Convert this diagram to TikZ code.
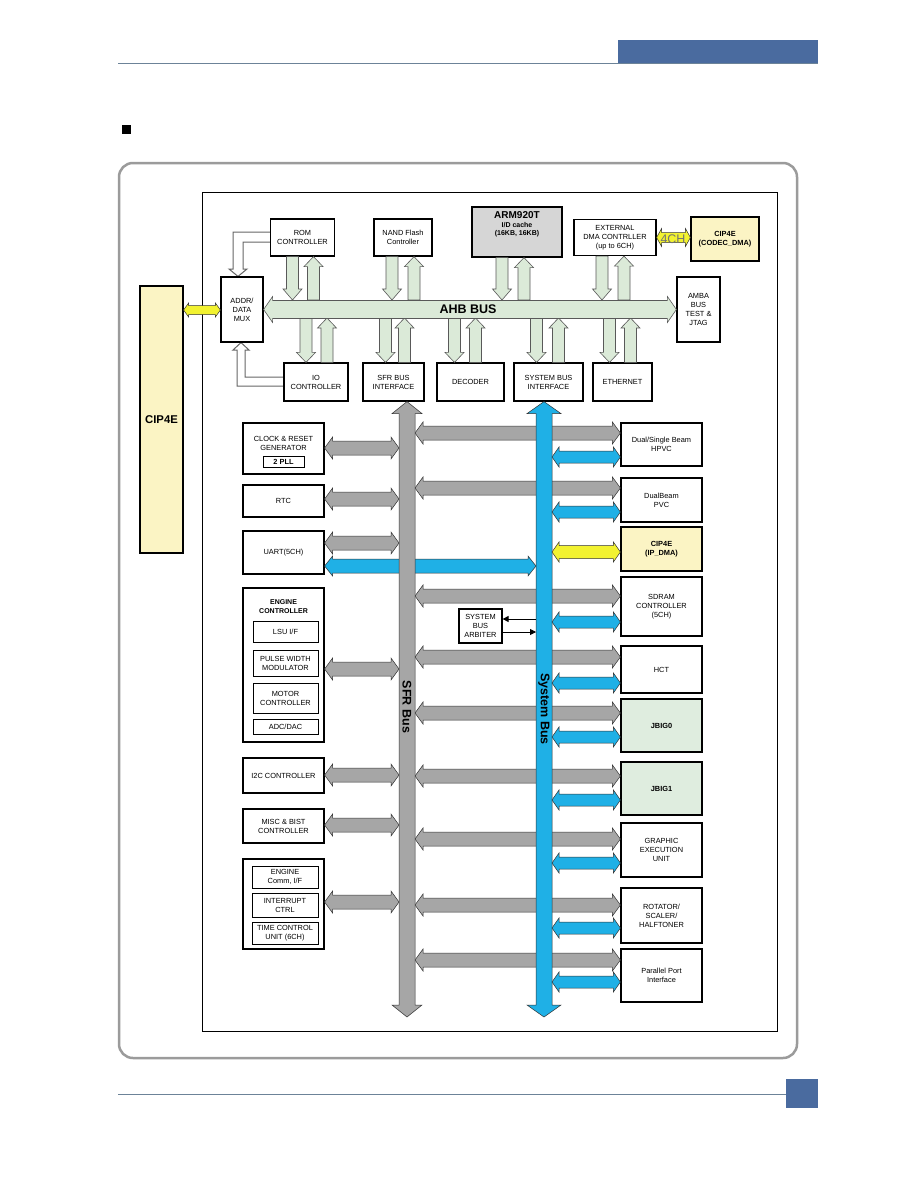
\documentclass[tikz,border=0pt]{standalone}
\usepackage{fontspec}
\setmainfont{Liberation Sans}
\usepackage{tikz}
\usetikzlibrary{arrows.meta,calc,backgrounds}
\definecolor{busgray}{HTML}{A6A6A6}
\definecolor{busblue}{HTML}{1FB0E6}
\definecolor{ahbgreen}{HTML}{DBEAD8}
\definecolor{jbiggreen}{HTML}{DFEDDF}
\definecolor{cipyellow}{HTML}{FBF4C4}
\definecolor{linkyellow}{HTML}{F2F230}
\definecolor{armgray}{HTML}{D6D6D6}
\definecolor{pageblue}{HTML}{4A6B9F}
\definecolor{rulegray}{HTML}{6C8398}
\definecolor{framegray}{HTML}{9B9B9B}

% block arrow with one head: style, shaft half, head half, head length, from, to
\newcommand\singlearrow[6]{%
  \coordinate (arA) at #5;
  \coordinate (arB) at #6;
  \coordinate (arH) at ($(arB)!#4!(arA)$);
  \path[#1] ($(arA)!#2!-90:(arB)$) -- ($(arH)!#2!90:(arA)$) -- ($(arH)!#3!90:(arA)$) -- (arB)
    -- ($(arH)!#3!-90:(arA)$) -- ($(arH)!#2!-90:(arA)$) -- ($(arA)!#2!90:(arB)$) -- cycle;}
% block arrow with two heads
\newcommand\doublearrow[6]{%
  \coordinate (arA) at #5;
  \coordinate (arB) at #6;
  \coordinate (arS) at ($(arA)!#4!(arB)$);
  \coordinate (arH) at ($(arB)!#4!(arA)$);
  \path[#1] (arA) -- ($(arS)!#3!-90:(arB)$) -- ($(arS)!#2!-90:(arB)$) -- ($(arH)!#2!90:(arA)$)
    -- ($(arH)!#3!90:(arA)$) -- (arB) -- ($(arH)!#3!-90:(arA)$) -- ($(arH)!#2!-90:(arA)$)
    -- ($(arS)!#2!90:(arB)$) -- ($(arS)!#3!90:(arB)$) -- cycle;}

\begin{document}
\begin{tikzpicture}[x=1pt,y=-1pt,
  blk/.style={draw,line width=1.2pt,fill=white,align=center,inner sep=1pt,font=\fontsize{7.4}{9}\selectfont},
  inblk/.style={blk,line width=1pt},
  sz/.style 2 args={minimum width=#1pt,minimum height=#2pt},
  grayarr/.style={fill=busgray,draw=black!80,line width=0.5pt},
  bluearr/.style={fill=busblue,draw=black!80,line width=0.5pt},
  yelarr/.style={fill=linkyellow,draw=black!80,line width=0.5pt},
  ahbarr/.style={fill=ahbgreen,draw=black!65,line width=0.6pt},
  hollow/.style={fill=white,draw=black!60,line width=1pt},
  buslbl/.style={font=\bfseries\fontsize{12.5}{14}\selectfont}]
  \useasboundingbox (0,0) rectangle (918,1188);

  % page header / footer
  \fill[pageblue] (618,40) rectangle (818,63);
  \draw[rulegray,line width=1pt] (118,64) -- (818,64);
  \fill (122,125) rectangle (131,134);
  \draw[rulegray,line width=1pt] (118,1094) -- (786,1094);
  \fill[pageblue] (786,1079) rectangle (818,1108);

  % frames
  \draw[framegray,line width=2.5pt,rounded corners=14pt] (119,163) rectangle (797,1058);
  \draw[line width=0.7pt] (202,192) rectangle (777,1031);

  % AHB side
  \node[blk,sz={64}{37}] (rom) at (302.5,237.5) {ROM\\CONTROLLER};
  \node[blk,sz={58}{37}] (nand) at (403,237.5) {NAND Flash\\Controller};
  \node[blk,sz={90}{50},fill=armgray] (arm) at (517,232) {};
  \node[anchor=north,align=center,font=\bfseries\fontsize{7}{8.6}\selectfont] (armtxt) at (517,208)
    {{\fontsize{10}{11.5}\selectfont ARM920T}\\I/D cache\\(16KB, 16KB)};
  \node[blk,sz={82}{36}] (dma) at (615,237.5) {EXTERNAL\\DMA CONTRLLER\\(up to 6CH)};
  \node[blk,sz={68}{44},fill=cipyellow,font=\bfseries\fontsize{7.4}{9}\selectfont] (cipc) at (725,239) {CIP4E\\(CODEC\_DMA)};
  \node[blk,sz={42}{65}] (mux) at (242,309.5) {ADDR/\\DATA\\MUX};
  \node[blk,sz={43}{65}] (amba) at (698.5,309.5) {AMBA\\BUS\\TEST \&\\JTAG};
  \node[blk,sz={64}{38}] (io) at (316,382) {IO\\CONTROLLER};
  \node[blk,sz={61}{38}] (sfrif) at (393.5,382) {SFR BUS\\INTERFACE};
  \node[blk,sz={67}{38}] (dec) at (470.5,382) {DECODER};
  \node[blk,sz={69}{38}] (sysif) at (548.5,382) {SYSTEM BUS\\INTERFACE};
  \node[blk,sz={59}{38}] (eth) at (622.5,382) {ETHERNET};
  \node[blk,sz={43}{267},fill=cipyellow,font=\bfseries\fontsize{11.3}{13}\selectfont] (cipl) at (161.5,419.5) {CIP4E};

  % left peripherals
  \node[blk,sz={81}{51}] (clk) at (283.5,448.5) {};
  \node[align=center,font=\fontsize{7.4}{9}\selectfont] (clktxt) at (283.5,443) {CLOCK \& RESET\\GENERATOR};
  \node[inblk,sz={41}{11},font=\bfseries\fontsize{7.4}{9}\selectfont] (pll) at (283.5,461.5) {2 PLL};
  \node[blk,sz={81}{32}] (rtc) at (283.5,501) {RTC};
  \node[blk,sz={81}{43}] (uart) at (283.5,552.5) {UART(5CH)};
  \node[blk,sz={81}{154}] (eng) at (283.5,665) {};
  \node[align=center,font=\bfseries\fontsize{7}{9}\selectfont] (engtxt) at (283.5,607) {ENGINE\\CONTROLLER};
  \node[inblk,sz={65}{21}] (lsu) at (285.5,631.5) {LSU I/F};
  \node[inblk,sz={65}{26}] (pwm) at (285.5,663) {PULSE WIDTH\\MODULATOR};
  \node[inblk,sz={65}{30}] (mot) at (285.5,698) {MOTOR\\CONTROLLER};
  \node[inblk,sz={65}{15}] (adc) at (285.5,726.5) {ADC/DAC};
  \node[blk,sz={81}{35}] (i2c) at (283.5,775.5) {I2C CONTROLLER};
  \node[blk,sz={81}{34}] (misc) at (283.5,826) {MISC \& BIST\\CONTROLLER};
  \node[blk,sz={81}{90}] (grp) at (283.5,904) {};
  \node[inblk,sz={66}{22}] (ecom) at (285,877) {ENGINE\\Comm, I/F};
  \node[inblk,sz={66}{24}] (intr) at (285,905) {INTERRUPT\\CTRL};
  \node[inblk,sz={66}{22}] (tcu) at (285,933) {TIME CONTROL\\UNIT (6CH)};

  % right peripherals
  \node[blk,sz={81}{43}] (hpvc) at (661.5,444.5) {Dual/Single Beam\\HPVC};
  \node[blk,sz={81}{44}] (pvc) at (661.5,500) {DualBeam\\PVC};
  \node[blk,sz={81}{44},fill=cipyellow,font=\bfseries\fontsize{7.4}{9}\selectfont] (cipi) at (661.5,549) {CIP4E\\(IP\_DMA)};
  \node[blk,sz={81}{59}] (sdram) at (661.5,606.5) {SDRAM\\CONTROLLER\\(5CH)};
  \node[blk,sz={81}{47}] (hct) at (661.5,669.5) {HCT};
  \node[blk,sz={81}{53},fill=jbiggreen,font=\bfseries\fontsize{7.4}{9}\selectfont] (jbig0) at (661.5,725.5) {JBIG0};
  \node[blk,sz={81}{53},fill=jbiggreen,font=\bfseries\fontsize{7.4}{9}\selectfont] (jbig1) at (661.5,788.5) {JBIG1};
  \node[blk,sz={81}{54}] (geu) at (661.5,850) {GRAPHIC\\EXECUTION\\UNIT};
  \node[blk,sz={81}{55}] (rot) at (661.5,915.5) {ROTATOR/\\SCALER/\\HALFTONER};
  \node[blk,sz={81}{53}] (pp) at (661.5,975.5) {Parallel Port\\Interface};
  \node[blk,sz={43}{34}] (arb) at (480.5,626) {SYSTEM\\BUS\\ARBITER};

  % bus edges
  \coordinate (ahbT) at (0,300);
  \coordinate (ahbB) at (0,318);
  \coordinate (sfrX) at (407,0);
  \coordinate (sfrL) at (399,0);
  \coordinate (sfrR) at (415,0);
  \coordinate (sysX) at (544,0);
  \coordinate (sysL) at (536,0);
  \coordinate (sysR) at (552,0);

  % ROM / IO to MUX
  \begin{scope}[on background layer]
    \fill[white] (0,0) rectangle (918,1188);
    \path[hollow] (rom.west |- 0,232) -- (233,232) -- (233,269) -- (229,269) -- (238,0 |- mux.north)
      -- (247,269) -- (243,269) -- (243,242) -- (rom.west |- 0,242);
    \path[hollow] (io.west |- 0,377) -- (245,377) -- (245,350) -- (249,350) -- (241,0 |- mux.south)
      -- (233,350) -- (237,350) -- (237,386) -- (io.west |- 0,386);
  \end{scope}

  % masters / slaves on AHB
  \foreach \b/\dd/\du in {rom/-10/11, nand/-11/11, arm/-15/7, dma/-13/9}{
    \coordinate (p) at ($(\b.south)+(\dd,0)$);
    \singlearrow{ahbarr}{6pt}{9.5pt}{11pt}{(p)}{(p |- ahbT)}
    \coordinate (q) at ($(\b.south)+(\du,0)$);
    \singlearrow{ahbarr}{6pt}{9.5pt}{10pt}{(q |- ahbT)}{(q)}
  }
  \foreach \b/\dd/\du in {io/-10/11, sfrif/-8/11, dec/-16/5, sysif/-12/10, eth/-13/8}{
    \coordinate (p) at ($(\b.north)+(\dd,0)$);
    \singlearrow{ahbarr}{6pt}{9.5pt}{10pt}{(p |- ahbB)}{(p)}
    \coordinate (q) at ($(\b.north)+(\du,0)$);
    \singlearrow{ahbarr}{6pt}{9.5pt}{10pt}{(q)}{(q |- ahbB)}
  }
  \doublearrow{ahbarr}{9pt}{13pt}{9pt}{(mux.east)}{(mux.east -| amba.west)}
  \node[buslbl] (ahblbl) at (468,309) {AHB BUS};

  \doublearrow{yelarr}{4.5pt}{7pt}{5pt}{(cipl.east |- 0,310)}{(mux.west |- 0,310)}
  \doublearrow{yelarr}{5pt}{9pt}{5pt}{(dma.east)}{(dma.east -| cipc.west)}
  \node[font=\fontsize{12.5}{14}\selectfont,text=black!55] (fourch) at (673,239.5) {4CH};

  % SFR bus side
  \foreach \b/\gy in {clk/448, rtc/499, uart/543, eng/669, i2c/775, misc/825, grp/902}
    \doublearrow{grayarr}{7pt}{11pt}{8pt}{(\b.east |- 0,\gy)}{(sfrL |- 0,\gy)};
  \foreach \b/\gy in {hpvc/433, pvc/488, sdram/596, hct/657, jbig0/713, jbig1/776, geu/839, rot/905, pp/960}
    \doublearrow{grayarr}{7pt}{11pt}{8pt}{(sfrR |- 0,\gy)}{(\b.west |- 0,\gy)};
  \doublearrow{bluearr}{7pt}{10pt}{8pt}{(uart.east |- 0,566)}{(sysL |- 0,566)}
  \doublearrow{grayarr}{8pt}{15pt}{12pt}{(sfrX |- sfrif.south)}{(sfrX |- 0,1017)}
  \node[buslbl,rotate=-90] (sfrlbl) at (407,707) {SFR Bus};

  % system bus side
  \doublearrow{bluearr}{8pt}{17pt}{12pt}{(sysX |- sysif.south)}{(sysX |- 0,1017)}
  \node[buslbl,rotate=-90] (syslbl) at (544,709) {System Bus};
  \foreach \b/\by in {hpvc/457, pvc/512, sdram/622, hct/683, jbig0/737, jbig1/800, geu/863, rot/928, pp/982}
    \doublearrow{bluearr}{6pt}{10pt}{7pt}{(sysR |- 0,\by)}{(\b.west |- 0,\by)};
  \doublearrow{yelarr}{6.5pt}{10pt}{7pt}{(sysR |- 0,552)}{(cipi.west |- 0,552)}
  \draw[line width=0.8pt,-{Triangle[length=6pt,width=6pt]}] (sysL |- 0,619) -- (arb.east |- 0,619);
  \draw[line width=0.8pt,-{Triangle[length=6pt,width=6pt]}] (arb.east |- 0,632) -- (sysL |- 0,632);
\end{tikzpicture}
\end{document}
